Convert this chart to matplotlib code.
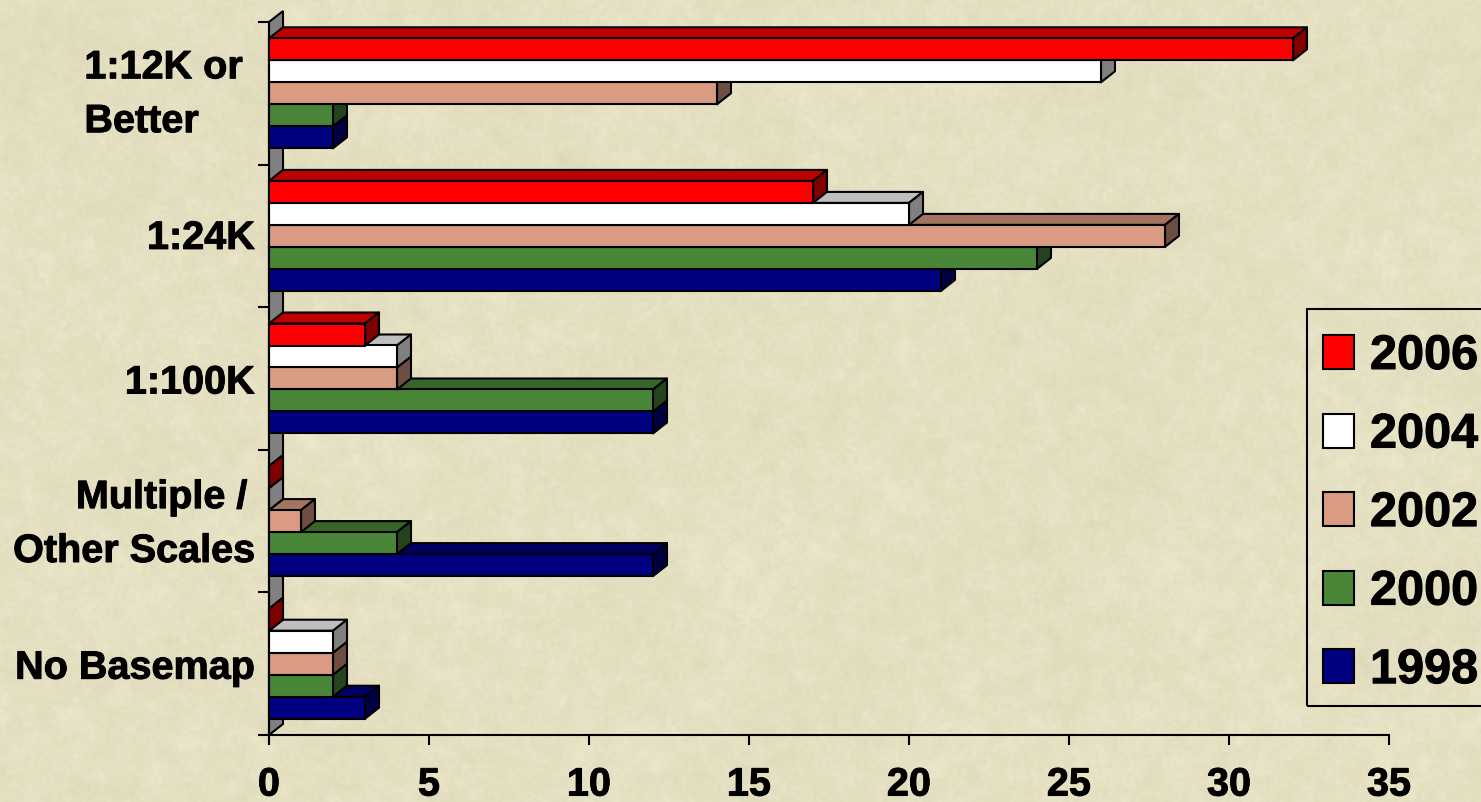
import matplotlib
matplotlib.use("Agg")
import matplotlib.pyplot as plt
import matplotlib.patheffects as pe
import numpy as np
from matplotlib.collections import PolyCollection
from matplotlib.colors import to_rgb
from matplotlib.patches import Patch, Polygon, Rectangle
from matplotlib.transforms import ScaledTranslation

plt.rcParams["font.family"] = ["Liberation Sans", "DejaVu Sans"]

# --- Data ------------------------------------------------------------------
categories = ["1:12K or\nBetter", "1:24K", "1:100K",
              "Multiple /\u2009\nOther Scales", "No Basemap"]
years = ["1998", "2000", "2002", "2004", "2006"]
v1998 = [2, 21, 12, 12, 3]
v2000 = [2, 24, 12, 4, 2]
v2002 = [14, 28, 4, 1, 2]
v2004 = [26, 20, 4, 0, 2]
v2006 = [32, 17, 3, 0, 0]
series = [v1998, v2000, v2002, v2004, v2006]
colors = ["#000080", "#4A8638", "#D99B82", "#FFFFFF", "#FF0000"]
x_ticks = [0, 5, 10, 15, 20, 25, 30, 35]

# --- Layout (pixels of the 1481x802 canvas) --------------------------------
W, H = 1481, 802
BG = np.array([230, 224, 195])
AX_L, AX_R, AX_T, AX_B = 269, 1389, 22, 735
PX_X = (AX_R - AX_L) / 35
PX_Y = (AX_B - AX_T) / 5
DEPTH_X = 14 / PX_X
DEPTH_Y = -11 / PX_Y       # y axis is inverted, up the screen is negative
BAR_H = 22 / PX_Y
FS = 28.5
FS_LEG = 35
EDGE = 1.5
HEAVY = [pe.withStroke(linewidth=0.7, foreground="black")]


def shade(color, k):
    return tuple(c * k for c in to_rgb(color))


def paper_texture(seed=3):
    # Only the parchment backdrop, a blurred noise field around the base colour
    rng = np.random.default_rng(seed)
    fy = np.fft.fftfreq(H)[:, None]
    fx = np.fft.rfftfreq(W)[None, :]
    r2 = fx ** 2 + fy ** 2
    field = np.zeros((H, W))
    for sigma, amp in ((1.5, 0.8), (6, 0.8), (40, 0.5)):
        blur = np.exp(-2 * (np.pi * sigma) ** 2 * r2)
        layer = np.fft.irfft2(np.fft.rfft2(rng.normal(size=(H, W))) * blur, s=(H, W))
        field += amp * layer / layer.std()
    img = BG[None, None, :] + field[:, :, None] * np.array([1.5, 1.5, 1.8])
    return np.clip(img, 0, 255).astype(np.uint8)


def shift_label(lab, dx_px, dy_px):
    lab.set_transform(lab.get_transform()
                      + ScaledTranslation(dx_px / 100, dy_px / 100, fig.dpi_scale_trans))


fig = plt.figure(figsize=(W / 100, H / 100), dpi=100)
fig.figimage(paper_texture(), zorder=-1)
ax = fig.add_axes([AX_L / W, 1 - AX_B / H, (AX_R - AX_L) / W, (AX_B - AX_T) / H])
ax.patch.set_visible(False)
ax.set_xlim(0, 35)
ax.set_ylim(4.5, -0.5)

# Back wall of the fake 3D box
ax.add_patch(Polygon([(0, 4.5), (DEPTH_X, 4.5 + DEPTH_Y),
                      (DEPTH_X, -0.5 + DEPTH_Y), (0, -0.5)],
                     facecolor="#808080", edgecolor="black", linewidth=EDGE,
                     clip_on=False, zorder=1))

# Bars go bottom to top so each one overlaps the depth faces of the one below
y_pos = np.arange(len(categories))
for i, (vals, col) in enumerate(zip(series, colors)):
    z = 2 + i
    y = y_pos + (2 - i) * BAR_H
    tops, sides = [], []
    for v, yy in zip(vals, y):
        t, b = yy - BAR_H / 2, yy + BAR_H / 2
        tops.append([(0, t), (DEPTH_X, t + DEPTH_Y), (v + DEPTH_X, t + DEPTH_Y), (v, t)])
        sides.append([(v, t), (v + DEPTH_X, t + DEPTH_Y), (v + DEPTH_X, b + DEPTH_Y), (v, b)])
    ax.add_collection(PolyCollection(tops, facecolors=[shade(col, 0.75)], edgecolors="black",
                                     linewidths=EDGE, clip_on=False, zorder=z))
    ax.add_collection(PolyCollection(sides, facecolors=[shade(col, 0.5)], edgecolors="black",
                                     linewidths=EDGE, clip_on=False, zorder=z))
    ax.barh(y, vals, height=BAR_H, color=col, edgecolor="black", linewidth=EDGE,
            clip_on=False, zorder=z + 0.5)

# --- Axes ------------------------------------------------------------------
for s in ("top", "right"):
    ax.spines[s].set_visible(False)
for s in ("left", "bottom"):
    ax.spines[s].set_linewidth(1.5)
    ax.spines[s].set_zorder(20)

ax.set_xticks(x_ticks)
ax.set_xticklabels([str(t) for t in x_ticks], fontsize=FS, fontweight="bold")
ax.tick_params(axis="x", length=7.5, width=1.5, pad=14.5)
ax.set_yticks(y_pos)
ax.set_yticklabels(categories, fontsize=FS, fontweight="bold", linespacing=1.53)
ax.set_yticks(np.arange(-0.5, 5), minor=True)
ax.tick_params(axis="y", which="major", length=0, pad=10)
ax.tick_params(axis="y", which="minor", length=8, width=1.5)

labels = ax.get_yticklabels()
labels[0].set_multialignment("left")
shift_label(labels[0], -12, 11)
shift_label(labels[1], 0, 2)
labels[3].set_multialignment("right")
shift_label(labels[3], 0, 9)
for lab in labels + ax.get_xticklabels():
    lab.set_path_effects(HEAVY)

# --- Legend ----------------------------------------------------------------
# The box runs off the right edge of the canvas, so it is drawn on its own
fig.add_artist(Rectangle((1307 / W, 1 - 706 / H), 190 / W, 397 / H,
                         transform=fig.transFigure, fill=False,
                         edgecolor="black", linewidth=1.5))
handles = [Patch(facecolor=c, edgecolor="black", linewidth=1.5, label=y)
           for y, c in zip(years[::-1], colors[::-1])]
fs_px = FS_LEG * 100 / 72
leg = fig.legend(handles=handles, loc="upper left",
                 bbox_to_anchor=(1307 / W, 1 - 318 / H), bbox_transform=fig.transFigure,
                 prop={"family": "Liberation Sans", "weight": "bold", "size": FS_LEG},
                 frameon=False, borderpad=16 / fs_px, borderaxespad=0,
                 handlelength=31 / fs_px, handleheight=34 / fs_px,
                 handletextpad=16 / fs_px, labelspacing=0.69)
for t in leg.get_texts():
    t.set_path_effects(HEAVY)

fig.savefig("out.png", dpi=100)
plt.close(fig)
